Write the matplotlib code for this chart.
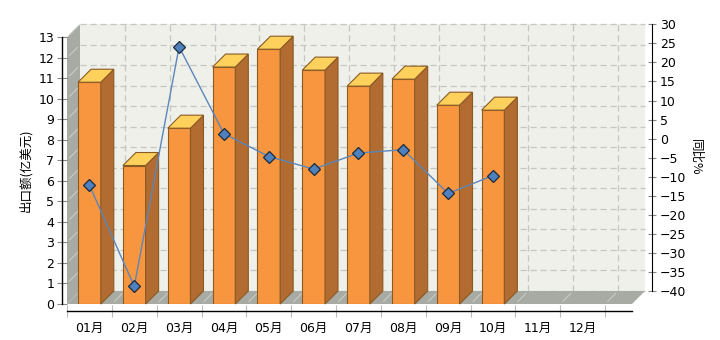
import matplotlib
matplotlib.use("Agg")
import matplotlib.pyplot as plt
from matplotlib.patches import Polygon, Rectangle
from matplotlib.ticker import FixedLocator

plt.rcParams['font.family'] = ['DejaVu Sans', 'Noto Sans CJK SC']

# ---- data ----
months = ["01月", "02月", "03月", "04月", "05月", "06月",
          "07月", "08月", "09月", "10月", "11月", "12月"]
export_value = [10.81, 6.75, 8.57, 11.55, 12.42, 11.40, 10.62, 10.96, 9.69, 9.45]
yoy_pct = [-12.2, -38.8, 24.1, 1.3, -4.7, -8.0, -3.8, -2.9, -14.4, -9.7]
left_label = "出口额(亿美元)"
right_label = "同比%"
left_ticks = list(range(0, 14))
right_ticks = list(range(-40, 31, 5))

# ---- layout (pixels) ----
W, H = 720, 340
DPI = 100
FL, FR, FB, FT = 67, 632, 304, 37.3   # front plane box
DX, DY = 13, 13                        # 3D depth offset in px

fig = plt.figure(figsize=(W / DPI, H / DPI), dpi=DPI)
fig.patch.set_facecolor("white")
ax = fig.add_axes([FL / W, (H - FB) / H, (FR - FL) / W, (FB - FT) / H])
x0, x1 = -0.5, 12.1
y0, y1 = 0, 13
ax.set_xlim(x0, x1)
ax.set_ylim(y0, y1)
ax.patch.set_visible(False)

ddx = DX * (x1 - x0) / (FR - FL)
ddy = DY * (y1 - y0) / (FB - FT)

wall_col = "#A8AAA4"
grid_col = "#C6C6C6"
back_col = "#F0F0EA"

# back wall
ax.add_patch(Rectangle((x0 + ddx, y0 + ddy), x1 - x0, y1 - y0, facecolor=back_col,
                       edgecolor="none", clip_on=False, zorder=0))
for k in left_ticks:
    ax.plot([x0 + ddx, x1 + ddx], [k + ddy, k + ddy], ls=(0, (5, 3)), color=grid_col,
            lw=0.9, clip_on=False, zorder=0.5)
dividers = [i - 0.5 for i in range(len(months) + 1)]
for d in dividers[1:]:
    ax.plot([d + ddx, d + ddx], [y0 + ddy, y1 + ddy], ls=(0, (5, 3)), color=grid_col,
            lw=0.9, clip_on=False, zorder=0.5)

# left wall
ax.add_patch(Polygon([(x0, y0), (x0, y1), (x0 + ddx, y1 + ddy), (x0 + ddx, y0 + ddy)],
                     closed=True, facecolor=wall_col, edgecolor="none", clip_on=False, zorder=1))
for k in left_ticks[1:]:
    ax.plot([x0 + ddx * 0.2, x0 + ddx * 0.8], [k + ddy * 0.2, k + ddy * 0.8],
            color="#C9CBC5", lw=0.8, clip_on=False, zorder=1.1)
# floor
ax.add_patch(Polygon([(x0, y0), (x1, y0), (x1 + ddx, y0 + ddy), (x0 + ddx, y0 + ddy)],
                     closed=True, facecolor=wall_col, edgecolor="none", clip_on=False, zorder=1))
for d in dividers[1:]:
    ax.plot([d + ddx * 0.2, d + ddx * 0.8], [y0 + ddy * 0.2, y0 + ddy * 0.8],
            color="#C9CBC5", lw=0.8, clip_on=False, zorder=1.1)

# bars
bw = 0.507
edge = "#8A5A24"
xs = list(range(len(export_value)))
ax.bar(xs, export_value, width=bw, color="#F7963F", edgecolor=edge, linewidth=0.8, zorder=3)
for x, v in zip(xs, export_value):
    r = x + bw / 2
    l = x - bw / 2
    ax.add_patch(Polygon([(r, 0), (r, v), (r + ddx, v + ddy), (r + ddx, ddy)], closed=True,
                         facecolor="#B26B30", edgecolor=edge, lw=0.8, clip_on=False, zorder=3))
    ax.add_patch(Polygon([(l, v), (r, v), (r + ddx, v + ddy), (l + ddx, v + ddy)], closed=True,
                         facecolor="#FDD15C", edgecolor=edge, lw=0.8, clip_on=False, zorder=3))

# axes styling (left / bottom)
for s in ["top", "right"]:
    ax.spines[s].set_visible(False)
ax.spines["left"].set_position(("outward", 5.3 * 72 / DPI))
ax.spines["bottom"].set_position(("outward", 7 * 72 / DPI))
ax.spines["left"].set_linewidth(1.0)
ax.spines["bottom"].set_linewidth(1.0)
ax.set_yticks(left_ticks)
ax.tick_params(axis="y", direction="inout", length=7, width=0.8, color="#888888",
               labelsize=9, pad=2)
ax.set_xticks(range(len(months)))
ax.set_xticklabels(months, fontsize=9)
ax.xaxis.set_minor_locator(FixedLocator(dividers))
ax.tick_params(axis="x", which="major", length=0, pad=8)
ax.tick_params(axis="x", which="minor", direction="inout", length=8, width=0.8, color="#BBBBBB")
ax.set_ylabel(left_label, fontsize=9, family=["Noto Sans CJK SC", "DejaVu Sans"])
ax.yaxis.set_label_coords((32 - FL) / (FR - FL), 0.5)

# secondary axis (back plane vertical, front x)
ax2 = fig.add_axes([FL / W, (H - FB + DY) / H, (FR - FL) / W, (FB - FT) / H])
ax2.set_xlim(x0, x1)
ax2.set_ylim(-40, 30)
ax2.patch.set_visible(False)
for s in ["top", "left", "bottom"]:
    ax2.spines[s].set_visible(False)
ax2.spines["right"].set_position(("outward", 19.7 * 72 / DPI))
ax2.yaxis.tick_right()
ax2.yaxis.set_label_position("right")
ax2.set_xticks([])
ax2.set_yticks(right_ticks)
ax2.tick_params(axis="y", direction="inout", length=6, width=0.8, color="#888888",
                labelsize=9, pad=3)
ax2.plot(range(len(yoy_pct)), yoy_pct, color="#5A86BC", lw=1.0, marker="D", ms=6.5,
         mfc="#4F81BD", mec="#1E2A3A", mew=0.9, clip_on=False, zorder=5)
ax2.set_ylabel(right_label, fontsize=9, rotation=-90, family=["Noto Sans CJK SC", "DejaVu Sans"])
ax2.yaxis.set_label_coords((702 - FL) / (FR - FL), (FB - DY - 157) / (FB - FT))

fig.savefig("out.png", dpi=DPI)
